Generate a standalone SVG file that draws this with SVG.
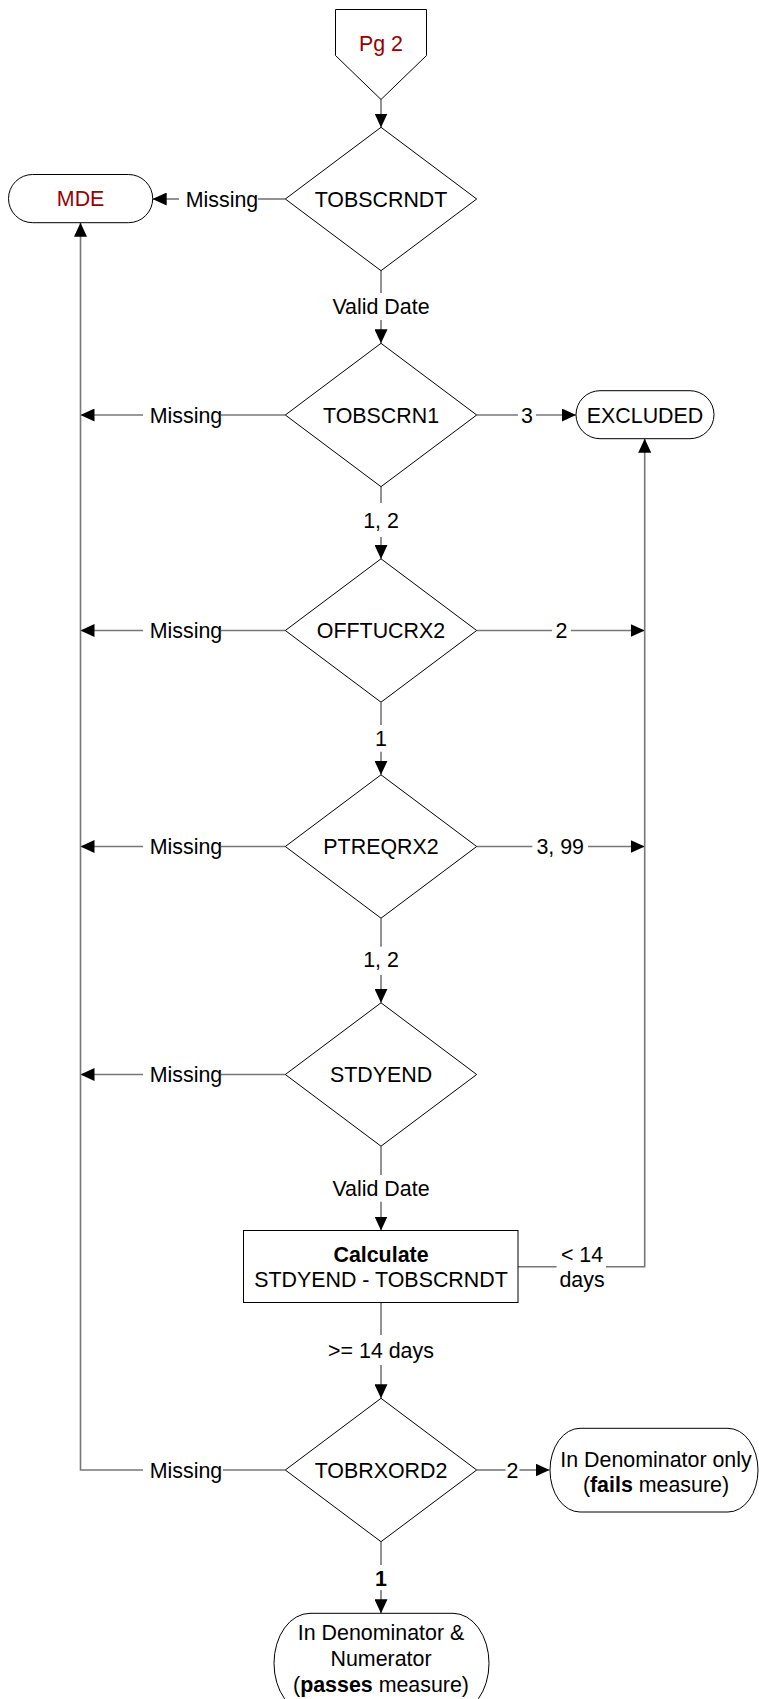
<svg xmlns="http://www.w3.org/2000/svg" width="759" height="1699" viewBox="0 0 759 1699">
<defs>
<marker id="ah" markerUnits="userSpaceOnUse" markerWidth="14" markerHeight="13" refX="14" refY="6.5" orient="auto"><path d="M0,0 L14,6.5 L0,13 z" fill="#000"/></marker>
<style>
text{font-family:"Liberation Sans",Arial,sans-serif;font-size:21.4px;fill:#000;text-anchor:middle}
.red{fill:#990000}
.b{font-weight:bold}
.shape{fill:#fff;stroke:#000;stroke-width:1}
.c line,.c polyline{stroke:#777777;stroke-width:1.6;fill:none}
.a{marker-end:url(#ah)}
</style>
</defs>
<rect width="759" height="1699" fill="#fff"/>

<g id="connectors" class="c">
<line class="a" x1="381" y1="99.5" x2="381" y2="127.5"/>
<line x1="285.3" y1="199" x2="258" y2="199"/>
<line class="a" x1="179" y1="199" x2="152.7" y2="199"/>
<line x1="381" y1="270.7" x2="381" y2="293"/>
<line class="a" x1="381" y1="320" x2="381" y2="343.3"/>
<line x1="285.3" y1="415" x2="221" y2="415"/>
<line class="a" x1="143" y1="415" x2="80.5" y2="415"/>
<line x1="476.7" y1="415" x2="518" y2="415"/>
<line class="a" x1="536" y1="415" x2="576" y2="415"/>
<line x1="381" y1="486.7" x2="381" y2="503"/>
<line class="a" x1="381" y1="537" x2="381" y2="559"/>
<line x1="285.3" y1="630.5" x2="221" y2="630.5"/>
<line class="a" x1="143" y1="630.5" x2="80.5" y2="630.5"/>
<line x1="476.7" y1="630.5" x2="552" y2="630.5"/>
<line class="a" x1="571" y1="630.5" x2="644.7" y2="630.5"/>
<line x1="381" y1="702.4" x2="381" y2="725"/>
<line class="a" x1="381" y1="751.7" x2="381" y2="774.8"/>
<line x1="285.3" y1="846.5" x2="221" y2="846.5"/>
<line class="a" x1="143" y1="846.5" x2="80.5" y2="846.5"/>
<line x1="476.7" y1="846.5" x2="532.4" y2="846.5"/>
<line class="a" x1="588" y1="846.5" x2="644.7" y2="846.5"/>
<line x1="381" y1="918.2" x2="381" y2="946.7"/>
<line class="a" x1="381" y1="975" x2="381" y2="1002.8"/>
<line x1="285.3" y1="1074.5" x2="221" y2="1074.5"/>
<line class="a" x1="143" y1="1074.5" x2="80.5" y2="1074.5"/>
<line x1="381" y1="1146.2" x2="381" y2="1175"/>
<line class="a" x1="381" y1="1201.7" x2="381" y2="1230.5"/>
<line x1="518" y1="1266.7" x2="556.6" y2="1266.7"/>
<polyline class="a" points="606,1266.7 644.7,1266.7 644.7,438.7"/>
<line x1="381" y1="1302.5" x2="381" y2="1335"/>
<line class="a" x1="381" y1="1365" x2="381" y2="1398.3"/>
<line x1="285.3" y1="1470" x2="223" y2="1470"/>
<polyline class="a" points="143,1470 80.5,1470 80.5,222.7"/>
<line x1="476.7" y1="1470" x2="505.5" y2="1470"/>
<line class="a" x1="519.5" y1="1470" x2="549.5" y2="1470"/>
<line x1="381" y1="1541.7" x2="381" y2="1565"/>
<line class="a" x1="381" y1="1590" x2="381" y2="1613.3"/>
</g>

<g id="labels">
<text x="222" y="206.6">Missing</text>
<text x="381" y="313.5">Valid Date</text>
<text x="186" y="422.6">Missing</text>
<text x="527" y="422.6">3</text>
<text x="381" y="528">1, 2</text>
<text x="186" y="638.1">Missing</text>
<text x="561.5" y="638.1">2</text>
<text x="381" y="745.6">1</text>
<text x="186" y="854.1">Missing</text>
<text x="560.2" y="854.1">3, 99</text>
<text x="381" y="967.2">1, 2</text>
<text x="186" y="1082.1">Missing</text>
<text x="381" y="1195.6">Valid Date</text>
<text x="582" y="1261.6">&lt; 14</text>
<text x="582" y="1286.6">days</text>
<text x="381" y="1357.6">&gt;= 14 days</text>
<text x="186" y="1477.6">Missing</text>
<text x="512.5" y="1477.6">2</text>
<text class="b" x="381" y="1585.6">1</text>
</g>

<g id="pg2">
<polygon class="shape" points="335.5,9.5 426.5,9.5 426.5,55.5 381,99.5 335.5,55.5"/>
<text class="red" x="381" y="50.8">Pg 2</text>
</g>

<g id="mde">
<rect class="shape" x="8.5" y="174.5" width="144.2" height="48.2" rx="24.1" ry="24.1"/>
<text class="red" x="80.6" y="206.2">MDE</text>
</g>

<g id="tobscrndt">
<polygon class="shape" points="381,127.3 476.7,199 381,270.7 285.3,199"/>
<text x="381" y="206.6">TOBSCRNDT</text>
</g>

<g id="tobscrn1">
<polygon class="shape" points="381,343.3 476.7,415 381,486.7 285.3,415"/>
<text x="381" y="422.6">TOBSCRN1</text>
</g>

<g id="excluded">
<rect class="shape" x="576" y="390.7" width="138" height="48" rx="24" ry="24"/>
<text x="645" y="422.6">EXCLUDED</text>
</g>

<g id="offtucrx2">
<polygon class="shape" points="381,558.8 476.7,630.5 381,702.2 285.3,630.5"/>
<text x="381" y="638.1">OFFTUCRX2</text>
</g>

<g id="ptreqrx2">
<polygon class="shape" points="381,774.8 476.7,846.5 381,918.2 285.3,846.5"/>
<text x="381" y="854.1">PTREQRX2</text>
</g>

<g id="stdyend">
<polygon class="shape" points="381,1002.8 476.7,1074.5 381,1146.2 285.3,1074.5"/>
<text x="381" y="1082.1">STDYEND</text>
</g>

<g id="calculate">
<rect class="shape" x="243.5" y="1230.5" width="274.5" height="72"/>
<text class="b" x="381" y="1261.6">Calculate</text>
<text x="381" y="1286.6">STDYEND - TOBSCRNDT</text>
</g>

<g id="tobrxord2">
<polygon class="shape" points="381,1398.3 476.7,1470 381,1541.7 285.3,1470"/>
<text x="381" y="1477.6">TOBRXORD2</text>
</g>

<g id="fails">
<path class="shape" d="M580,1428.3 L728,1428.3 A30,41.85 0 0 1 758,1470.15 A30,41.85 0 0 1 728,1512 L580,1512 A30,41.85 0 0 1 550,1470.15 A30,41.85 0 0 1 580,1428.3 Z"/>
<text x="656" y="1466.6">In Denominator only</text>
<text x="656" y="1491.6">(<tspan class="b">fails</tspan> measure)</text>
</g>

<g id="passes">
<path class="shape" d="M310,1613.3 L453,1613.3 A36,50 0 0 1 489,1663.3 A36,50 0 0 1 453,1713.3 L310,1713.3 A36,50 0 0 1 274,1663.3 A36,50 0 0 1 310,1613.3 Z"/>
<text x="381" y="1639.9">In Denominator &amp;</text>
<text x="381" y="1665.9">Numerator</text>
<text x="381" y="1691.6">(<tspan class="b">passes</tspan> measure)</text>
</g>
</svg>
